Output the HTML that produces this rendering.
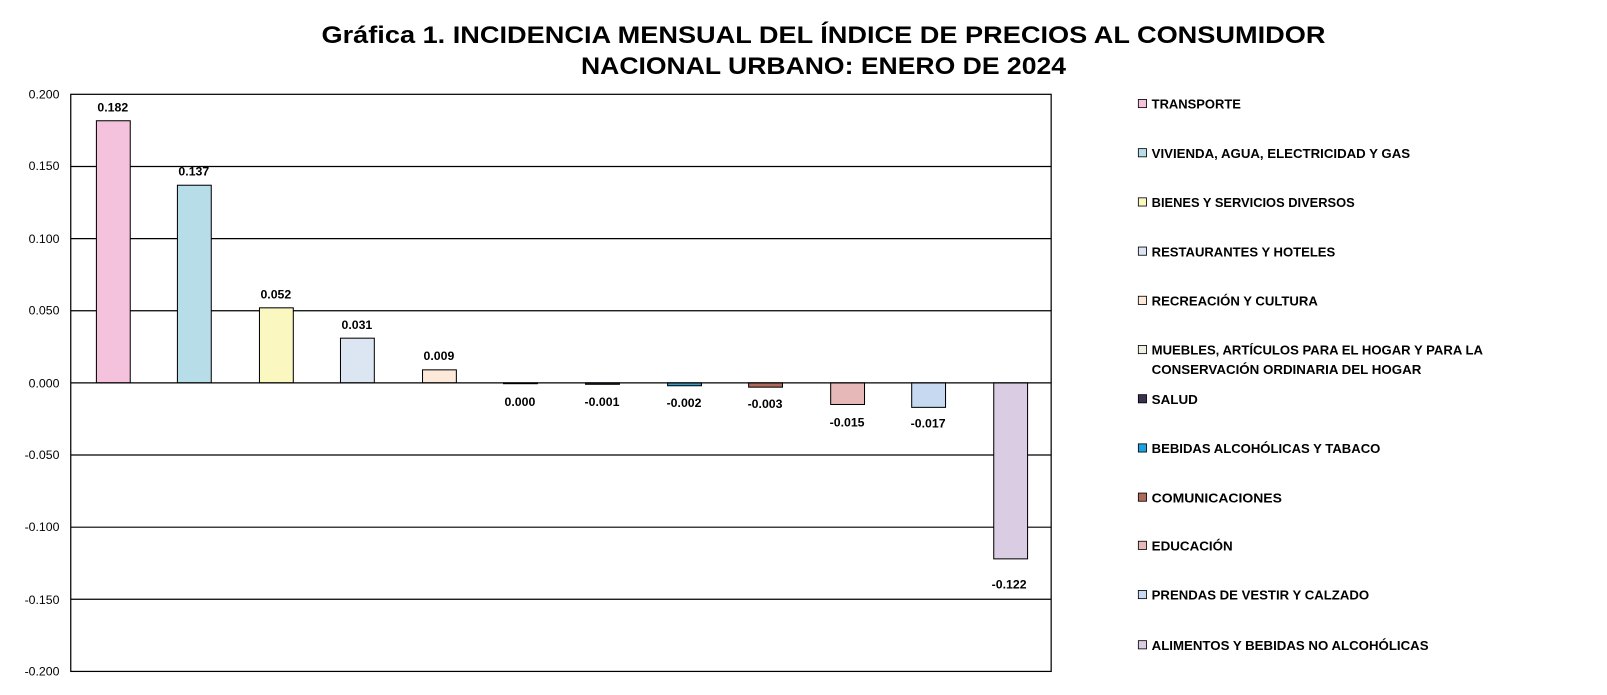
<!DOCTYPE html>
<html><head><meta charset="utf-8"><style>
html,body{margin:0;padding:0;background:#fff}
svg{display:block;font-family:"Liberation Sans",Arial,sans-serif}
</style></head><body>
<svg width="1607" height="695" viewBox="0 0 1567 678" preserveAspectRatio="none" xmlns="http://www.w3.org/2000/svg">
<text x="803" y="42" text-anchor="middle" font-size="23" font-weight="bold" textLength="979" lengthAdjust="spacingAndGlyphs">Gráfica 1.  INCIDENCIA MENSUAL  DEL ÍNDICE DE PRECIOS AL CONSUMIDOR</text>
<text x="803" y="72" text-anchor="middle" font-size="23" font-weight="bold" textLength="473" lengthAdjust="spacingAndGlyphs">NACIONAL URBANO: ENERO DE 2024</text>
<g stroke="#000" stroke-width="1.2">
<line x1="69" y1="162.4" x2="1025" y2="162.4"/>
<line x1="69" y1="232.8" x2="1025" y2="232.8"/>
<line x1="69" y1="303.1" x2="1025" y2="303.1"/>
<line x1="69" y1="443.9" x2="1025" y2="443.9"/>
<line x1="69" y1="514.3" x2="1025" y2="514.3"/>
<line x1="69" y1="584.6" x2="1025" y2="584.6"/>
<rect x="69" y="92" width="956" height="563" fill="none"/>
</g>
<g font-size="12" text-anchor="end">
<text x="58" y="96">0.200</text><text x="58" y="166">0.150</text><text x="58" y="237">0.100</text><text x="58" y="307">0.050</text><text x="58" y="378">0.000</text><text x="58" y="448">-0.050</text><text x="58" y="518">-0.100</text><text x="58" y="589">-0.150</text><text x="58" y="659">-0.200</text>
</g>
<g stroke="#000" stroke-width="1">
<rect x="94" y="117.8" width="33" height="255.7" fill="#f4c2dc"/>
<rect x="173" y="180.7" width="33" height="192.8" fill="#b7dde8"/>
<rect x="253" y="300.3" width="33" height="73.2" fill="#faf7c0"/>
<rect x="332" y="329.9" width="33" height="43.6" fill="#dce6f2"/>
<rect x="412" y="360.8" width="33" height="12.7" fill="#fde9d9"/>
<rect x="491" y="373.5" width="33" height="0.8" fill="#ebf1de"/>
<rect x="571" y="373.5" width="33" height="1.4" fill="#3a3050"/>
<rect x="651" y="373.5" width="33" height="2.8" fill="#31a0d0"/>
<rect x="730" y="373.5" width="33" height="4.2" fill="#b06a5c"/>
<rect x="810" y="373.5" width="33" height="21.1" fill="#e6b9b8"/>
<rect x="889" y="373.5" width="33" height="23.9" fill="#c6d9f1"/>
<rect x="969" y="373.5" width="33" height="171.7" fill="#d9cce3"/>
</g>
<line x1="69" y1="373.5" x2="1025" y2="373.5" stroke="#000" stroke-width="1.2"/>
<g font-size="12" font-weight="bold" text-anchor="middle">
<text x="110" y="109">0.182</text><text x="189" y="171">0.137</text><text x="269" y="291">0.052</text><text x="348" y="321">0.031</text><text x="428" y="351">0.009</text>
<text x="507" y="396">0.000</text><text x="587" y="396">-0.001</text><text x="667" y="397">-0.002</text><text x="746" y="398">-0.003</text><text x="826" y="416">-0.015</text><text x="905" y="417">-0.017</text><text x="984" y="574">-0.122</text>
</g>
<g stroke="#000" stroke-width="0.8">
<rect x="1110" y="97" width="8" height="8" fill="#f4c2dc"/>
<rect x="1110" y="145" width="8" height="8" fill="#b7dde8"/>
<rect x="1110" y="193" width="8" height="8" fill="#faf7c0"/>
<rect x="1110" y="241" width="8" height="8" fill="#dce6f2"/>
<rect x="1110" y="289" width="8" height="8" fill="#fde9d9"/>
<rect x="1110" y="337" width="8" height="8" fill="#ebf1de"/>
<rect x="1110" y="385" width="8" height="8" fill="#3a3050"/>
<rect x="1110" y="433" width="8" height="8" fill="#1fa0e0"/>
<rect x="1110" y="481" width="8" height="8" fill="#b06a5c"/>
<rect x="1110" y="528" width="8" height="8" fill="#e6b9b8"/>
<rect x="1110" y="576" width="8" height="8" fill="#c6d9f1"/>
<rect x="1110" y="625" width="8" height="8" fill="#d9cce3"/>
</g>
<g font-size="12.5" font-weight="bold" lengthAdjust="spacingAndGlyphs">
<text x="1123" y="106" textLength="87" lengthAdjust="spacingAndGlyphs">TRANSPORTE</text>
<text x="1123" y="154" textLength="252" lengthAdjust="spacingAndGlyphs">VIVIENDA, AGUA, ELECTRICIDAD Y GAS</text>
<text x="1123" y="202" textLength="198" lengthAdjust="spacingAndGlyphs">BIENES Y SERVICIOS DIVERSOS</text>
<text x="1123" y="250" textLength="179" lengthAdjust="spacingAndGlyphs">RESTAURANTES Y HOTELES</text>
<text x="1123" y="298" textLength="162" lengthAdjust="spacingAndGlyphs">RECREACIÓN Y CULTURA</text>
<text x="1123" y="346" textLength="323" lengthAdjust="spacingAndGlyphs">MUEBLES, ARTÍCULOS PARA EL HOGAR Y PARA LA</text>
<text x="1123" y="365" textLength="263" lengthAdjust="spacingAndGlyphs">CONSERVACIÓN ORDINARIA DEL HOGAR</text>
<text x="1123" y="394" textLength="45" lengthAdjust="spacingAndGlyphs">SALUD</text>
<text x="1123" y="442" textLength="223" lengthAdjust="spacingAndGlyphs">BEBIDAS ALCOHÓLICAS Y TABACO</text>
<text x="1123" y="490" textLength="127" lengthAdjust="spacingAndGlyphs">COMUNICACIONES</text>
<text x="1123" y="537" textLength="79" lengthAdjust="spacingAndGlyphs">EDUCACIÓN</text>
<text x="1123" y="585" textLength="212" lengthAdjust="spacingAndGlyphs">PRENDAS DE VESTIR Y CALZADO</text>
<text x="1123" y="634" textLength="270" lengthAdjust="spacingAndGlyphs">ALIMENTOS Y BEBIDAS NO ALCOHÓLICAS</text>
</g>
</svg>
</body></html>
